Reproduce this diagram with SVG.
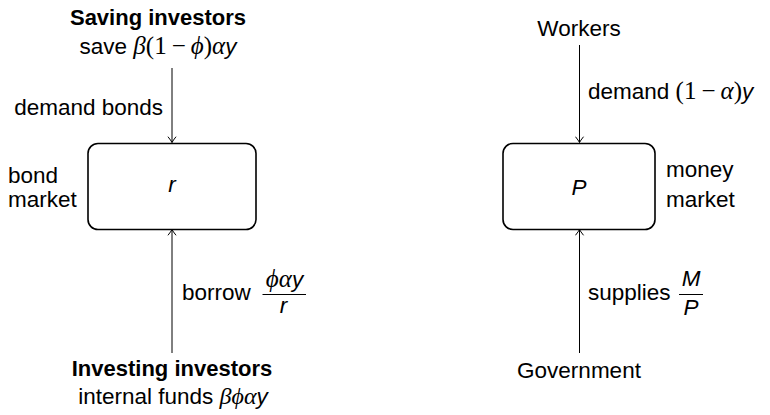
<svg xmlns="http://www.w3.org/2000/svg" width="770" height="415" viewBox="0 0 770 415">
<style>
  text { font-family: "Liberation Sans", Arial, sans-serif; font-size: 22.5px; fill: #000; }
  .b { font-weight: bold; font-size: 22px; }
  .m { font-family: "Liberation Serif", "DejaVu Serif", serif; font-size: 25px; }
  .mi { font-family: "Liberation Serif", "DejaVu Serif", serif; font-style: italic; font-size: 25px; }
  .si { font-style: italic; }
  .box { fill: #fff; stroke: #000; stroke-width: 1.6; }
  .edge { fill: none; stroke: #000; stroke-width: 1; marker-end: url(#arr); }
  .bar { stroke: #000; stroke-width: 1; }
</style>
<defs>
  <marker id="arr" markerUnits="userSpaceOnUse" viewBox="-7 -5 8 10" refX="0" refY="0" markerWidth="8" markerHeight="10" orient="auto">
    <path d="M-5.5,-3.8 Q-2,-1 0,0 Q-2,1 -5.5,3.8" fill="none" stroke="#000" stroke-width="1" stroke-linecap="round"/>
  </marker>
</defs>

<g id="connectors">
  <path class="edge" d="M172,68 L172,142.5"/>
  <path class="edge" d="M172,353 L172,229.5"/>
  <path class="edge" d="M579.5,45 L579.5,142.5"/>
  <path class="edge" d="M579.5,353 L579.5,229.5"/>
</g>

<g id="edge-labels">
  <text x="163" y="115" text-anchor="end">demand bonds</text>
  <text x="182" y="300">borrow</text>
  <text x="284.5" y="287" text-anchor="middle"><tspan class="mi">ϕα</tspan><tspan class="si">y</tspan></text>
  <line class="bar" x1="262.5" y1="294.5" x2="306" y2="294.5"/>
  <text x="283.5" y="313" text-anchor="middle" class="si">r</text>
  <text x="588" y="99">demand <tspan class="m">(1</tspan><tspan class="m" dx="5">−</tspan><tspan class="mi" dx="5">α</tspan><tspan class="m">)</tspan><tspan class="si">y</tspan></text>
  <text x="588" y="300">supplies</text>
  <text x="691" y="286" text-anchor="middle" class="si">M</text>
  <line class="bar" x1="679" y1="294.5" x2="703" y2="294.5"/>
  <text x="691" y="315" text-anchor="middle" class="si">P</text>
</g>

<g id="saving-investors">
  <text x="158" y="25" text-anchor="middle" class="b">Saving investors</text>
  <text x="158" y="54" text-anchor="middle">save <tspan class="mi">β</tspan><tspan class="m">(1</tspan><tspan class="m" dx="5">−</tspan><tspan class="mi" dx="5">ϕ</tspan><tspan class="m">)</tspan><tspan class="mi">α</tspan><tspan class="si">y</tspan></text>
</g>

<g id="bond-market">
  <rect class="box" x="88" y="143.5" width="168" height="86" rx="10"/>
  <text x="172" y="192" text-anchor="middle" class="si">r</text>
  <text x="8" y="183">bond</text>
  <text x="8" y="206.5">market</text>
</g>

<g id="investing-investors">
  <text x="172" y="376" text-anchor="middle" class="b">Investing investors</text>
  <text x="173" y="404" text-anchor="middle">internal funds <tspan class="mi" style="font-size:24px">βϕα</tspan><tspan class="si">y</tspan></text>
</g>

<g id="workers">
  <text x="579" y="36" text-anchor="middle">Workers</text>
</g>

<g id="money-market">
  <rect class="box" x="503" y="143.5" width="152" height="86" rx="10"/>
  <text x="579" y="195" text-anchor="middle" class="si">P</text>
  <text x="666" y="177">money</text>
  <text x="666" y="207">market</text>
</g>

<g id="government">
  <text x="579" y="378" text-anchor="middle">Government</text>
</g>
</svg>
